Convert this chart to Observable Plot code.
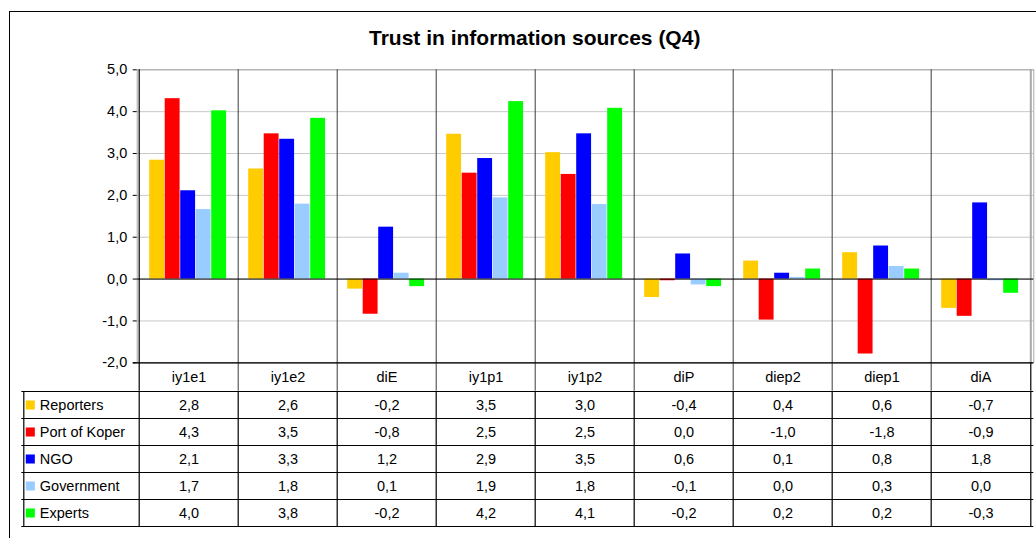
<!DOCTYPE html>
<html>
<head>
<meta charset="utf-8">
<script src="https://cdn.jsdelivr.net/npm/d3@7"></script>
<script src="https://cdn.jsdelivr.net/npm/@observablehq/plot@0.6"></script>
<style>
  html, body { margin: 0; padding: 0; background: #fff; }
  body { width: 1036px; height: 538px; overflow: hidden; position: relative; font-family: "Liberation Sans", Arial, sans-serif; }
  #border { position: absolute; left: 9px; top: 11px; width: 1200px; height: 700px; border-left: 1px solid #000; border-top: 1px solid #000; pointer-events: none; }
  #title { position: relative; height: 56px; }
  #title span { position: absolute; left: 0; width: 1069.4px; top: 26.5px; text-align: center; font: bold 21px "Liberation Sans", Arial, sans-serif; line-height: 21px; color: #000; }
  svg { display: block; }
</style>
</head>
<body>
<div id="border"></div>
<div id="title"><span>Trust in information sources (Q4)</span></div>
<div id="chart"></div>
<div id="table"></div>
<script>
// ---- data ----
const categories = ["iy1e1", "iy1e2", "diE", "iy1p1", "iy1p2", "diP", "diep2", "diep1", "diA"];
const seriesNames = ["Reporters", "Port of Koper", "NGO", "Government", "Experts"];
const reporters  = [2.84, 2.63, -0.24, 3.46, 3.02, -0.44, 0.43, 0.63, -0.70];
const portKoper  = [4.31, 3.47, -0.84, 2.53, 2.50, -0.04, -0.98, -1.79, -0.89];
const ngo        = [2.11, 3.34, 1.24, 2.88, 3.47, 0.60, 0.14, 0.79, 1.82];
const government = [1.66, 1.79, 0.14, 1.94, 1.78, -0.14, 0.04, 0.30, -0.04];
const experts    = [4.02, 3.84, -0.18, 4.24, 4.08, -0.18, 0.24, 0.24, -0.34];
const yTicks = [-2, -1, 0, 1, 2, 3, 4, 5];
const seriesColors = ["#FFCC00", "#FF0000", "#0000FF", "#99CCFF", "#00FF00"];

const seriesValues = [reporters, portKoper, ngo, government, experts];
const rows = [];
seriesNames.forEach((s, j) => categories.forEach((c, i) => rows.push({series: s, si: j, cat: c, value: seriesValues[j][i]})));

const locale = d3.formatLocale({decimal: ",", thousands: ".", grouping: [3], currency: ["", ""], minus: "-"});
const fmt = locale.format(".1f");

// ---- layout ----
const W = 1036;
const mL = 136.7, mR = 2.7;
const step = (W - mL - mR) / categories.length;
const padL = 10.2, bw = 15.5;
const headerH = 28.4;
const font = "Liberation Sans, Arial, sans-serif";
const fs = 14.5;

const chartH = 334.7, chartTop = 13.3;

const barMarks = seriesNames.map((s, j) => Plot.barY(rows.filter(d => d.series === s), {
  x: "cat", y1: 0, y2: "value", fill: seriesColors[j],
  insetLeft: padL + j * bw, insetRight: step - padL - (j + 1) * bw
}));

const chart = Plot.plot({
  width: W, height: chartH,
  marginTop: chartTop, marginBottom: headerH, marginLeft: mL, marginRight: mR,
  style: {fontFamily: font, fontSize: fs + "px", color: "#000", background: "transparent"},
  x: {type: "band", domain: categories, padding: 0, axis: null},
  y: {domain: [-2, 5], axis: null},
  marks: [
    Plot.ruleY(yTicks, {stroke: "#c8c8c8", strokeWidth: 1}),
    Plot.frame({stroke: "#a8a8a8", strokeWidth: 1}),
    Plot.ruleX([categories[categories.length - 1]], {dx: step / 2, stroke: "#a8a8a8", strokeWidth: 2}),
    Plot.ruleX(categories.slice(1), {dx: -step / 2, stroke: "#3a3a3a", strokeWidth: 1, insetBottom: -headerH}),
    ...barMarks,
    Plot.ruleY([0], {stroke: "#000", strokeWidth: 1}),
    Plot.ruleY([-2], {stroke: "#000", strokeWidth: 1.2, insetLeft: -4}),
    Plot.ruleX([categories[0]], {dx: -step / 2, stroke: "#000", strokeWidth: 1.2, insetBottom: -headerH}),
    Plot.ruleX([categories[categories.length - 1]], {dx: step / 2, y1: -2, y2: -2, insetBottom: -headerH, stroke: "#000", strokeWidth: 1.2}),
    Plot.axisY(yTicks, {tickSize: 4, tickPadding: 6, tickFormat: fmt, fontSize: fs, stroke: "#000", label: null}),
    Plot.axisX(categories, {tickSize: 0, tickPadding: 9, fontSize: fs, label: null})
  ]
});
document.getElementById("chart").appendChild(chart);

// ---- data table ----
const tableH = 147.3, rowsH = 135;
const legendW = mL - 21.3;
const table = Plot.plot({
  width: W, height: tableH,
  marginTop: 0, marginBottom: tableH - rowsH, marginLeft: mL, marginRight: mR,
  style: {fontFamily: font, fontSize: fs + "px", color: "#000", background: "transparent"},
  x: {type: "band", domain: categories, padding: 0, axis: null},
  y: {domain: [seriesNames.length, 0], axis: null},
  marks: [
    Plot.ruleY(d3.range(seriesNames.length + 1), {stroke: "#000", strokeWidth: 1.2, insetLeft: -legendW}),
    Plot.ruleX(categories, {dx: -step / 2, stroke: "#000", strokeWidth: 1.2}),
    Plot.ruleX([categories[categories.length - 1]], {dx: step / 2, stroke: "#000", strokeWidth: 1.2}),
    Plot.ruleX([categories[0]], {dx: -step / 2 - legendW, stroke: "#000", strokeWidth: 1.2}),
    Plot.text(rows, {x: "cat", y: d => d.si + 0.5, text: d => fmt(d.value), fontSize: fs, fill: "#000"}),
    Plot.dot(seriesNames, {y: (d, i) => i + 0.5, frameAnchor: "left", dx: 29.8 - mL, symbol: "square", r: 5.1, fill: (d, i) => seriesColors[i], stroke: null}),
    Plot.text(seriesNames, {y: (d, i) => i + 0.5, frameAnchor: "left", dx: 39.3 - mL, textAnchor: "start", fontSize: fs, fill: "#000"})
  ]
});
document.getElementById("table").appendChild(table);
</script>
</body>
</html>
